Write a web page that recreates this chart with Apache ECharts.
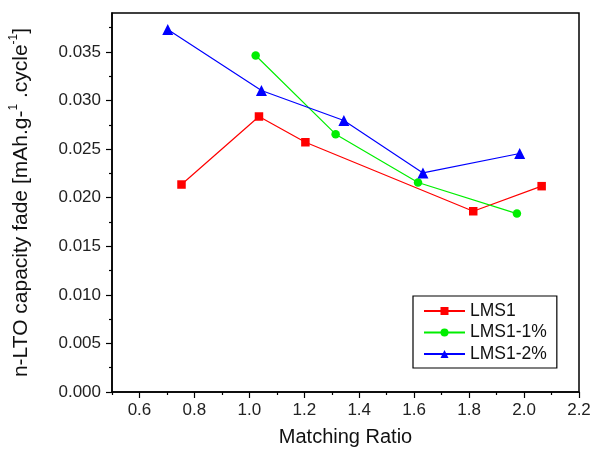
<!DOCTYPE html>
<html>
<head>
<meta charset="utf-8">
<script src="https://cdn.jsdelivr.net/npm/echarts@6/dist/echarts.min.js"></script>
<style>html,body{margin:0;padding:0;background:#fff}#c{width:595px;height:454px}</style>
</head>
<body>
<div id="c"></div>
<script>
var seriesNames = ['LMS1', 'LMS1-1%', 'LMS1-2%'];
var lms1X = [0.753, 1.035, 1.204, 1.815, 2.064];
var lms1Y = [0.02135, 0.02835, 0.0257, 0.0186, 0.02118];
var lms1p1X = [1.023, 1.314, 1.614, 1.974];
var lms1p1Y = [0.03463, 0.02653, 0.02156, 0.01836];
var lms1p2X = [0.703, 1.044, 1.344, 1.632, 1.984];
var lms1p2Y = [0.0373, 0.03103, 0.02794, 0.02254, 0.02454];
var xTicks = [0.6, 0.8, 1.0, 1.2, 1.4, 1.6, 1.8, 2.0, 2.2];
var xMinorTicks = [0.5, 0.7, 0.9, 1.1, 1.3, 1.5, 1.7, 1.9, 2.1];
var yTicks = [0, 0.005, 0.01, 0.015, 0.02, 0.025, 0.03, 0.035];
var yMinorTicks = [0.0025, 0.0075, 0.0125, 0.0175, 0.0225, 0.0275, 0.0325, 0.0375];

function pairs(xs, ys) { return xs.map(function (x, i) { return [x, ys[i]]; }); }

var chart = echarts.init(document.getElementById('c'));
var lineCol = '#000';
chart.setOption({
  animation: false,
  backgroundColor: '#fff',
  textStyle: { fontFamily: 'Liberation Sans' },
  grid: { left: 112, right: 16, top: 13, bottom: 62, show: true, borderColor: '#000', borderWidth: 1.5, backgroundColor: 'transparent' },
  xAxis: [{
    type: 'value', min: 0.5, max: 2.2,
    name: 'Matching Ratio', nameLocation: 'middle', nameGap: 35,
    nameTextStyle: { fontSize: 20, color: '#111', fontFamily: 'Liberation Sans' },
    axisLine: { show: true, lineStyle: { color: lineCol, width: 1.5 } },
    axisTick: { show: true, length: 6, lineStyle: { color: lineCol, width: 1.2 }, customValues: xTicks },
    axisLabel: { customValues: xTicks, fontSize: 17, color: '#222', margin: 10, formatter: function (v) { return v.toFixed(1); } },
    splitLine: { show: false }
  }, {
    type: 'value', min: 0.5, max: 2.2, position: 'bottom',
    axisLine: { show: false },
    axisTick: { show: true, length: 3, lineStyle: { color: lineCol, width: 1.2 }, customValues: xMinorTicks },
    axisLabel: { show: false },
    splitLine: { show: false }
  }],
  yAxis: [{
    type: 'value', min: 0, max: 0.039,
    name: '{a|n-LTO capacity fade [mAh.g-}{s|1}{a| .cycle}{s|-1}{a|]}',
    nameLocation: 'middle', nameGap: 80,
    nameTextStyle: {
      color: '#111',
      rich: {
        a: { fontSize: 21, color: '#111', fontFamily: 'Liberation Sans', lineHeight: 24, verticalAlign: 'bottom' },
        s: { fontSize: 12, color: '#111', fontFamily: 'Liberation Sans', lineHeight: 24, verticalAlign: 'top' }
      }
    },
    axisLine: { show: true, lineStyle: { color: lineCol, width: 1.5 } },
    axisTick: { show: true, length: 6, lineStyle: { color: lineCol, width: 1.2 }, customValues: yTicks },
    axisLabel: { customValues: yTicks, fontSize: 17, color: '#222', margin: 11, formatter: function (v) { return v.toFixed(3); } },
    splitLine: { show: false }
  }, {
    type: 'value', min: 0, max: 0.039, position: 'left',
    axisLine: { show: false },
    axisTick: { show: true, length: 3, lineStyle: { color: lineCol, width: 1.2 }, customValues: yMinorTicks },
    axisLabel: { show: false },
    splitLine: { show: false }
  }],
  legend: {
    orient: 'vertical', left: 413, top: 296,
    data: seriesNames,
    backgroundColor: '#fff', borderColor: '#000', borderWidth: 1.2, borderRadius: 0,
    padding: [6, 10, 5, 10],
    itemWidth: 41, itemHeight: 10, itemGap: 3.5,
    textStyle: { fontSize: 17.5, lineHeight: 18, color: '#111', fontFamily: 'Liberation Sans' }
  },
  series: [{
    name: seriesNames[0], type: 'line', data: pairs(lms1X, lms1Y),
    symbol: 'rect', symbolSize: 8.5, color: '#ff0000',
    lineStyle: { width: 1.2, color: '#ff0000' }, itemStyle: { color: '#ff0000' }
  }, {
    name: seriesNames[1], type: 'line', data: pairs(lms1p1X, lms1p1Y),
    symbol: 'circle', symbolSize: 8.5, color: '#00ee00',
    lineStyle: { width: 1.2, color: '#00ee00' }, itemStyle: { color: '#00ee00' }
  }, {
    name: seriesNames[2], type: 'line', data: pairs(lms1p2X, lms1p2Y),
    symbol: 'triangle', symbolSize: 11, color: '#0000ff',
    lineStyle: { width: 1.2, color: '#0000ff' }, itemStyle: { color: '#0000ff' }
  }]
});
</script>
</body>
</html>
